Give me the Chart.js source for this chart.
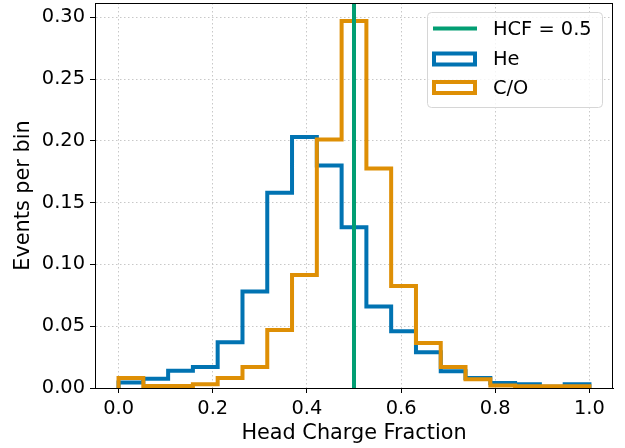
<!DOCTYPE html>
<html>
<head>
<meta charset="utf-8">
<script src="https://cdn.jsdelivr.net/npm/chart.js@4.4.0/dist/chart.umd.min.js"></script>
<style>
  body { margin: 0; background: #fff; }
</style>
</head>
<body>
<canvas id="histChart" width="625" height="448"></canvas>
<script>
// bin edges of the histograms (19 bins over 0..1)
const binEdges = [0, 0.0526, 0.1053, 0.1579, 0.2105, 0.2632, 0.3158, 0.3684, 0.4211, 0.4737,
                  0.5263, 0.5789, 0.6316, 0.6842, 0.7368, 0.7895, 0.8421, 0.8947, 0.9474, 1.0];
const heValues = [0.0045, 0.0075, 0.014, 0.017, 0.037, 0.078, 0.158, 0.203, 0.180, 0.130,
                  0.066, 0.046, 0.029, 0.0135, 0.008, 0.004, 0.003, 0.001, 0.003];
const coValues = [0.008, 0.0016, 0.0016, 0.003, 0.008, 0.017, 0.047, 0.0915, 0.201, 0.297,
                  0.1775, 0.0825, 0.0365, 0.017, 0.007, 0.002, 0.0015, 0.0015, 0.0015];
const hcfValue = 0.5;
const xTicks = [0.0, 0.2, 0.4, 0.6, 0.8, 1.0];
const yTicks = [0.00, 0.05, 0.10, 0.15, 0.20, 0.25, 0.30];
const yMax = 0.3115;

// outline of a step histogram: up from 0 at the first edge, down to 0 at the last
function stepPoints(edges, values) {
    const pts = [{ x: edges[0], y: 0 }];
    values.forEach((v, i) => pts.push({ x: edges[i], y: v }));
    pts.push({ x: edges[edges.length - 1], y: values[values.length - 1] });
    pts.push({ x: edges[edges.length - 1], y: 0 });
    return pts;
}

const FONT = "'DejaVu Sans', sans-serif";
Chart.defaults.font.family = FONT;
Chart.defaults.font.size = 19.4;
Chart.defaults.color = "#000";

// legend box and the two missing spines, drawn like matplotlib does
const frame = {
    id: "frame",
    afterDatasetsDraw(chart) {
        const { ctx, chartArea: a } = chart;
        ctx.save();
        ctx.strokeStyle = "#000";
        ctx.lineWidth = 1;
        ctx.strokeRect(Math.round(a.left) + 0.5, Math.round(a.top) + 0.5,
                       Math.round(a.right - a.left) - 1, Math.round(a.bottom - a.top));

        // legend
        ctx.beginPath();
        ctx.roundRect(427.5, 12.5, 175, 95, 4);
        ctx.fillStyle = "rgba(255,255,255,0.8)";
        ctx.fill();
        ctx.strokeStyle = "#d6d6d6";
        ctx.stroke();
        const items = [0, 1, 2].map(i => chart.data.datasets.find(d => d.legendIndex === i));
        const rowsY = [28.5, 59, 87.5];
        ctx.font = "19.4px " + FONT;
        ctx.textBaseline = "middle";
        ctx.textAlign = "left";
        items.forEach((ds, i) => {
            const y = rowsY[i];
            ctx.strokeStyle = ds.borderColor;
            ctx.lineWidth = 4;
            if (ds.legendType === "line") {
                ctx.beginPath();
                ctx.moveTo(433, y);
                ctx.lineTo(477, y);
                ctx.stroke();
            } else {
                ctx.strokeRect(434, y - 5.5, 41, 11);
            }
            ctx.fillStyle = "#000";
            ctx.fillText(ds.label, 493, y + 1);
        });
        ctx.restore();
    }
};

new Chart(document.getElementById("histChart"), {
    type: "line",
    data: {
        datasets: [
            {
                label: "HCF = 0.5", legendIndex: 0, legendType: "line", order: 0,
                data: [{ x: hcfValue, y: 0 }, { x: hcfValue, y: yMax }],
                borderColor: "#029e73", borderWidth: 4, pointRadius: 0
            },
            {
                label: "C/O", legendIndex: 2, legendType: "box", order: 1,
                data: stepPoints(binEdges, coValues), stepped: "before",
                borderColor: "#de8f05", borderWidth: 4, pointRadius: 0,
                borderJoinStyle: "miter"
            },
            {
                label: "He", legendIndex: 1, legendType: "box", order: 2,
                data: stepPoints(binEdges, heValues), stepped: "before",
                borderColor: "#0173b2", borderWidth: 4, pointRadius: 0,
                borderJoinStyle: "miter"
            }
        ]
    },
    options: {
        responsive: false,
        animation: false,
        layout: { padding: { top: 3, right: 12, left: 0, bottom: 0 } },
        plugins: { legend: { display: false }, tooltip: { enabled: false } },
        scales: {
            x: {
                type: "linear", min: -0.05, max: 1.05,
                afterBuildTicks: s => { s.ticks = xTicks.map(v => ({ value: v })); },
                afterFit: s => { s.height = 60; s.paddingLeft = 0; s.paddingRight = 0; },
                ticks: { callback: v => v.toFixed(1), padding: 4, maxRotation: 0, autoSkip: false },
                grid: { color: "#c8c8c8", tickColor: "#000", tickLength: 5, tickBorderDash: [] },
                border: { color: "#000", dash: [1.5, 2.5] },
                title: { display: true, text: "Head Charge Fraction", font: { size: 20.8 },
                         padding: { top: 0, bottom: 2 } }
            },
            y: {
                min: 0, max: yMax,
                afterBuildTicks: s => { s.ticks = yTicks.map(v => ({ value: v })); },
                afterFit: s => { s.width = 95; s.paddingTop = 0; s.paddingBottom = 0; },
                ticks: { callback: v => v.toFixed(2), padding: 5, autoSkip: false },
                grid: { color: "#c8c8c8", tickColor: "#000", tickLength: 5, tickBorderDash: [] },
                border: { color: "#000", dash: [1.5, 2.5] },
                title: { display: true, text: "Events per bin", font: { size: 20.8 },
                         padding: { top: 11, bottom: 0 } }
            }
        }
    },
    plugins: [frame]
});
</script>
</body>
</html>
